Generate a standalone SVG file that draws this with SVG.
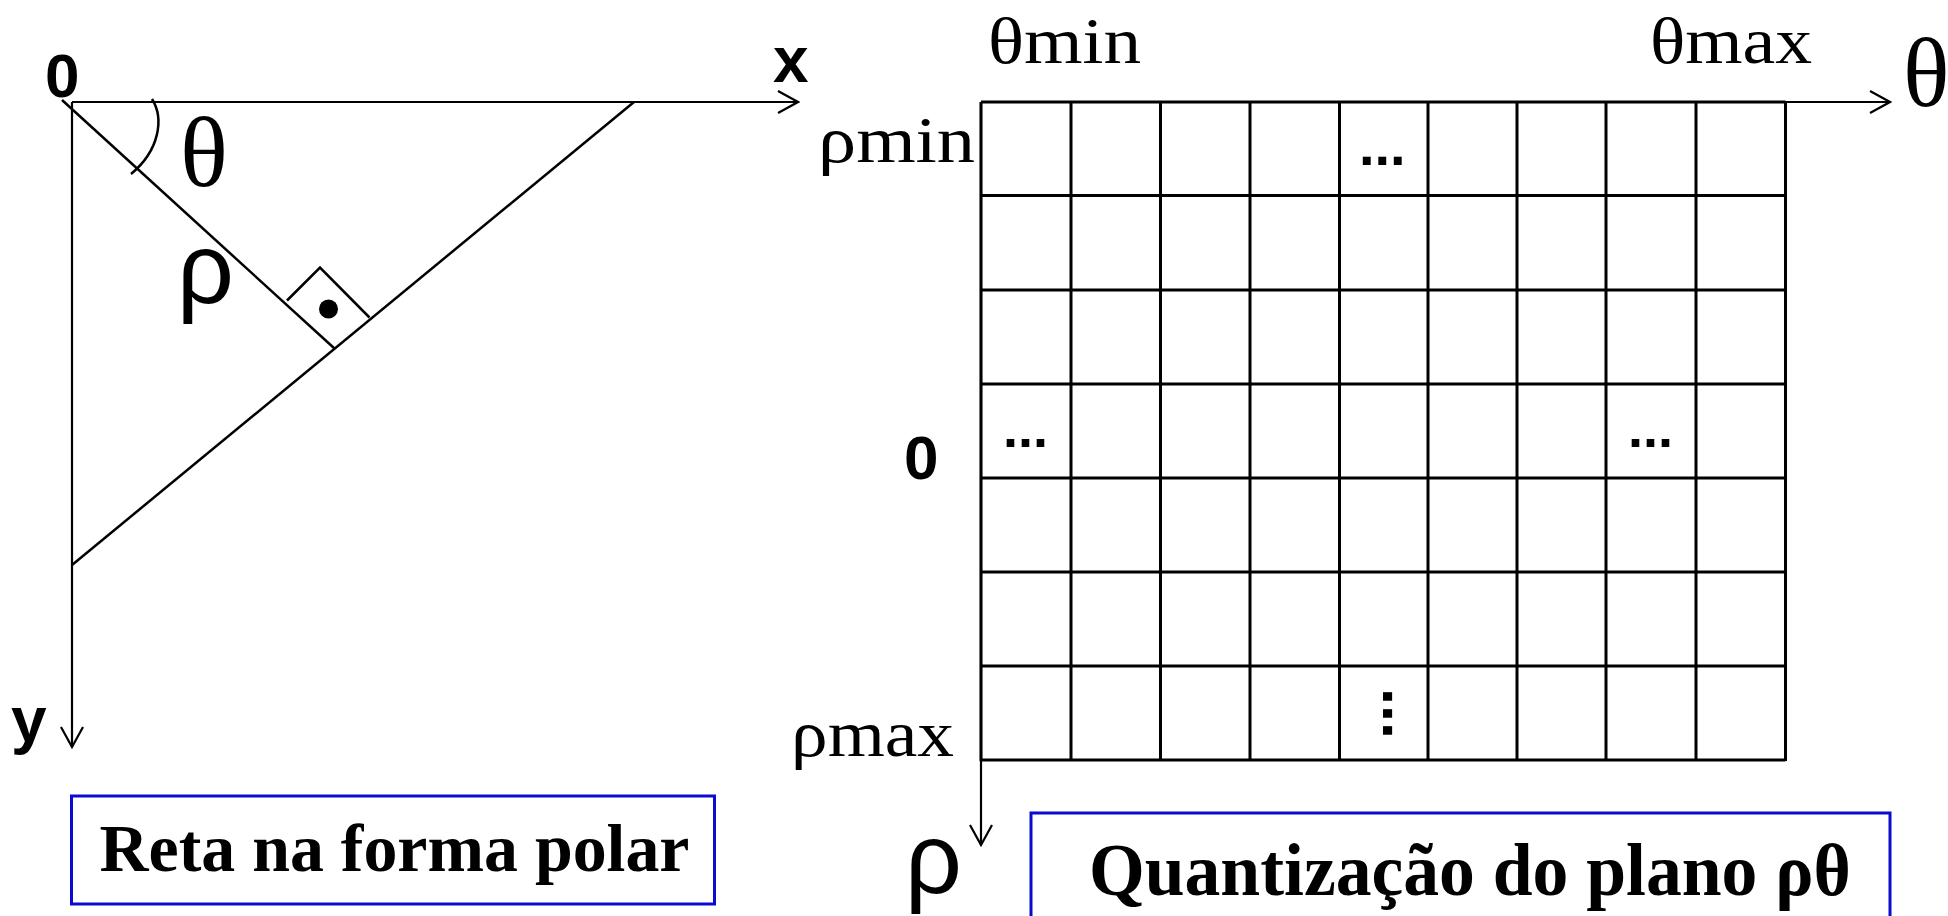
<svg xmlns="http://www.w3.org/2000/svg" width="1948" height="916" viewBox="0 0 1948 916">
<style>
.ln{stroke:#000;stroke-width:2.5;fill:none}
.ax{stroke:#000;stroke-width:2.2;fill:none}
.gr{stroke:#000;stroke-width:3;fill:none}
.sb{font-family:"Liberation Sans",Arial,sans-serif;font-weight:bold;fill:#000}
.sr{font-family:"Liberation Serif","Times New Roman",serif;fill:#000}
.gk{font-family:"Liberation Sans",Arial,sans-serif;fill:#000}
.box{fill:none;stroke:#0a0ad0;stroke-width:3}
.cap{font-family:"Liberation Serif","Times New Roman",serif;font-weight:bold;fill:#000}
</style>
<defs>
<marker id="arr" markerUnits="userSpaceOnUse" viewBox="0 0 24 26" markerWidth="24" markerHeight="26" refX="22" refY="13" orient="auto">
<path d="M2,2 L22,13 L2,24" fill="none" stroke="#000" stroke-width="2.2"/>
</marker>
</defs>
<rect width="1948" height="916" fill="#fff"/>

<g id="connectors">
<line class="ax" x1="72" y1="102" x2="798" y2="102" marker-end="url(#arr)"/>
<line class="ax" x1="72" y1="102" x2="72" y2="747" marker-end="url(#arr)"/>
<line class="ax" x1="981" y1="102" x2="1890" y2="102" marker-end="url(#arr)"/>
<line class="ax" x1="981" y1="102" x2="981" y2="845" marker-end="url(#arr)"/>
</g>

<g id="polar-diagram">
<line class="ln" x1="634" y1="102" x2="72" y2="565"/>
<line class="ln" x1="62" y1="100" x2="334.5" y2="348.5"/>
<polyline class="ln" points="287,300.5 320,267.5 369.5,317.5"/>
<circle cx="328.5" cy="309" r="9.5" fill="#000"/>
<path class="ln" d="M152,99 C164,118 160,150 131,174"/>
<text class="sb" x="45" y="97" font-size="62">0</text>
<text class="sb" x="773" y="82" font-size="64">x</text>
<text class="sb" x="11" y="742" font-size="64">y</text>
<text class="sr" x="180" y="186" font-size="100">θ</text>
<text class="gk" x="177" y="303" font-size="100">ρ</text>
</g>

<g id="grid">
<path class="gr" d="M981,102H1785.5M981,195.5H1785.5M981,290H1785.5M981,384H1785.5M981,478H1785.5M981,572H1785.5M981,666H1785.5M981,760H1785.5"/>
<path class="gr" d="M981,102V761M1071,102V761M1160.5,102V761M1250,102V761M1339.5,102V761M1428,102V761M1517,102V761M1606,102V761M1696,102V761M1785.5,102V761"/>
<text class="sb" x="1359" y="165" font-size="56">...</text>
<text class="sb" x="1003" y="447" font-size="54">...</text>
<text class="sb" x="1628" y="447" font-size="54">...</text>
<text class="sb" transform="translate(1382.5,692) rotate(90)" x="-4" y="0" font-size="61">...</text>
</g>

<g id="axis-labels">
<text class="sr" x="988" y="63" font-size="66" textLength="153" lengthAdjust="spacingAndGlyphs">θmin</text>
<text class="sr" x="1650" y="63" font-size="66" textLength="162" lengthAdjust="spacingAndGlyphs">θmax</text>
<text class="sr" x="1903" y="106" font-size="97">θ</text>
<text class="sr" x="818" y="162" font-size="66" textLength="157" lengthAdjust="spacingAndGlyphs">ρmin</text>
<text class="sb" x="904" y="479" font-size="62">0</text>
<text class="sr" x="791" y="756" font-size="66" textLength="163" lengthAdjust="spacingAndGlyphs">ρmax</text>
<text class="gk" x="905" y="893" font-size="100">ρ</text>
</g>

<g id="caption-left">
<rect class="box" x="71.5" y="796" width="643" height="108"/>
<text class="cap" x="99.5" y="871" font-size="68" textLength="590" lengthAdjust="spacingAndGlyphs">Reta na forma polar</text>
</g>

<g id="caption-right">
<rect class="box" x="1031" y="813" width="859" height="140"/>
<text class="cap" x="1089" y="895" font-size="74" textLength="762" lengthAdjust="spacingAndGlyphs">Quantização do plano ρθ</text>
</g>
</svg>
